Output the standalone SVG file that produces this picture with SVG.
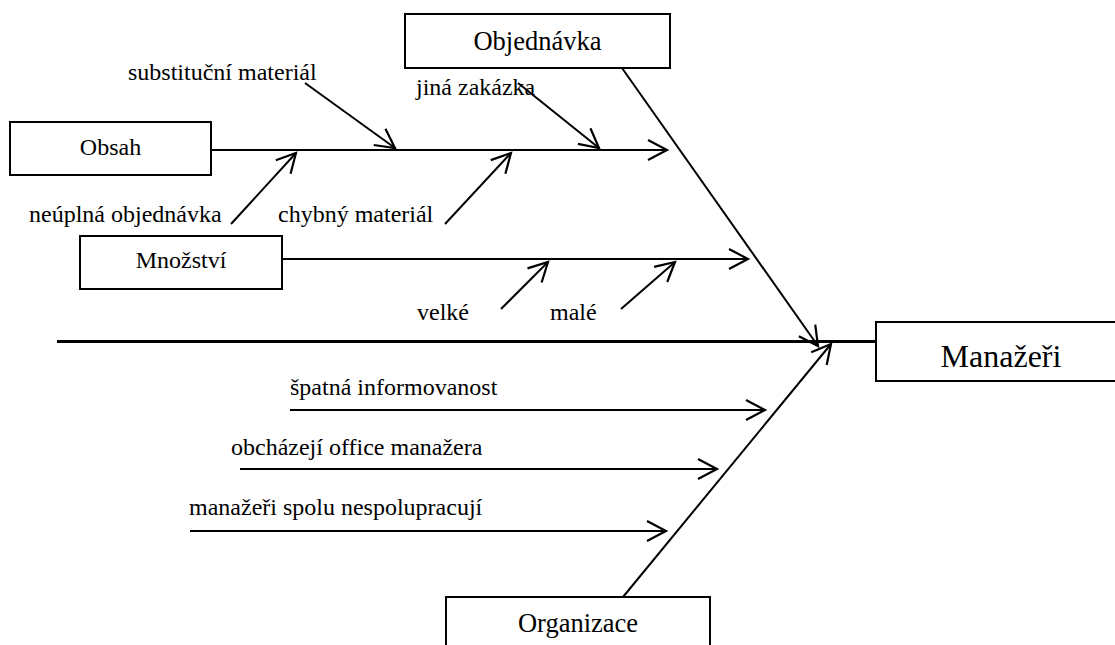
<svg xmlns="http://www.w3.org/2000/svg" width="1115" height="645" viewBox="0 0 1115 645">
<style>
  text { font-family: "Liberation Serif", "Times New Roman", serif; fill: #000; }
  .lbl { font-size: 24px; }
  .box { fill: #fff; stroke: #000; stroke-width: 2; }
  .c { text-anchor: middle; }
  .ln { stroke: #000; stroke-width: 2; fill: none; }
  .arr { marker-end: url(#v); }
</style>
<defs>
  <marker id="v" viewBox="-20 -12 24 24" markerWidth="24" markerHeight="24" refX="0" refY="0" orient="auto" markerUnits="userSpaceOnUse" overflow="visible">
    <path d="M-19,-10 L0,0 L-19,10" fill="none" stroke="#000" stroke-width="2.2"/>
  </marker>
</defs>
<rect width="1115" height="645" fill="#fff"/>

<g id="connectors">
  <line x1="57" y1="341.5" x2="877" y2="341.5" stroke="#000" stroke-width="3"/>
  <line class="ln arr" x1="211" y1="150" x2="667" y2="150"/>
  <line class="ln arr" x1="282" y1="259" x2="748" y2="259"/>
  <line class="ln arr" x1="622" y1="68" x2="818" y2="346"/>
  <line class="ln arr" x1="623" y1="597" x2="831" y2="344"/>
  <line class="ln arr" x1="305" y1="83" x2="395" y2="148"/>
  <line class="ln arr" x1="518" y1="83" x2="599" y2="148"/>
  <line class="ln arr" x1="231" y1="224" x2="296" y2="153"/>
  <line class="ln arr" x1="445" y1="224" x2="511" y2="153"/>
  <line class="ln arr" x1="501" y1="309" x2="548" y2="262"/>
  <line class="ln arr" x1="621" y1="309" x2="675" y2="262"/>
  <line class="ln arr" x1="290" y1="410" x2="765" y2="410"/>
  <line class="ln arr" x1="240" y1="469" x2="717" y2="469"/>
  <line class="ln arr" x1="190" y1="531" x2="666" y2="531"/>
</g>

<g id="objednavka">
  <rect class="box" x="405" y="14" width="265" height="54"/>
  <text class="c" x="537.5" y="50" font-size="26.5">Objednávka</text>
</g>
<g id="obsah">
  <rect class="box" x="10" y="122" width="201" height="53"/>
  <text class="c lbl" x="110.5" y="155">Obsah</text>
</g>
<g id="mnozstvi">
  <rect class="box" x="80" y="236" width="202" height="53"/>
  <text class="c lbl" x="181" y="268">Množství</text>
</g>
<g id="manazeri">
  <rect class="box" x="876" y="322" width="250" height="59"/>
  <text class="c" x="1001" y="367" font-size="32">Manažeři</text>
</g>
<g id="organizace">
  <rect class="box" x="446" y="597" width="264" height="60"/>
  <text class="c" x="578" y="632" font-size="26.5">Organizace</text>
</g>

<g id="labels">
  <text class="lbl" x="128" y="80">substituční materiál</text>
  <text class="lbl" x="416" y="95">jiná zakázka</text>
  <text class="lbl" x="29" y="222">neúplná objednávka</text>
  <text class="lbl" x="278" y="222">chybný materiál</text>
  <text class="lbl" x="417" y="320">velké</text>
  <text class="lbl" x="550" y="320">malé</text>
  <text class="lbl" x="290" y="395">špatná informovanost</text>
  <text class="lbl" x="231" y="455">obcházejí office manažera</text>
  <text class="lbl" x="189" y="515">manažeři spolu nespolupracují</text>
</g>
</svg>
